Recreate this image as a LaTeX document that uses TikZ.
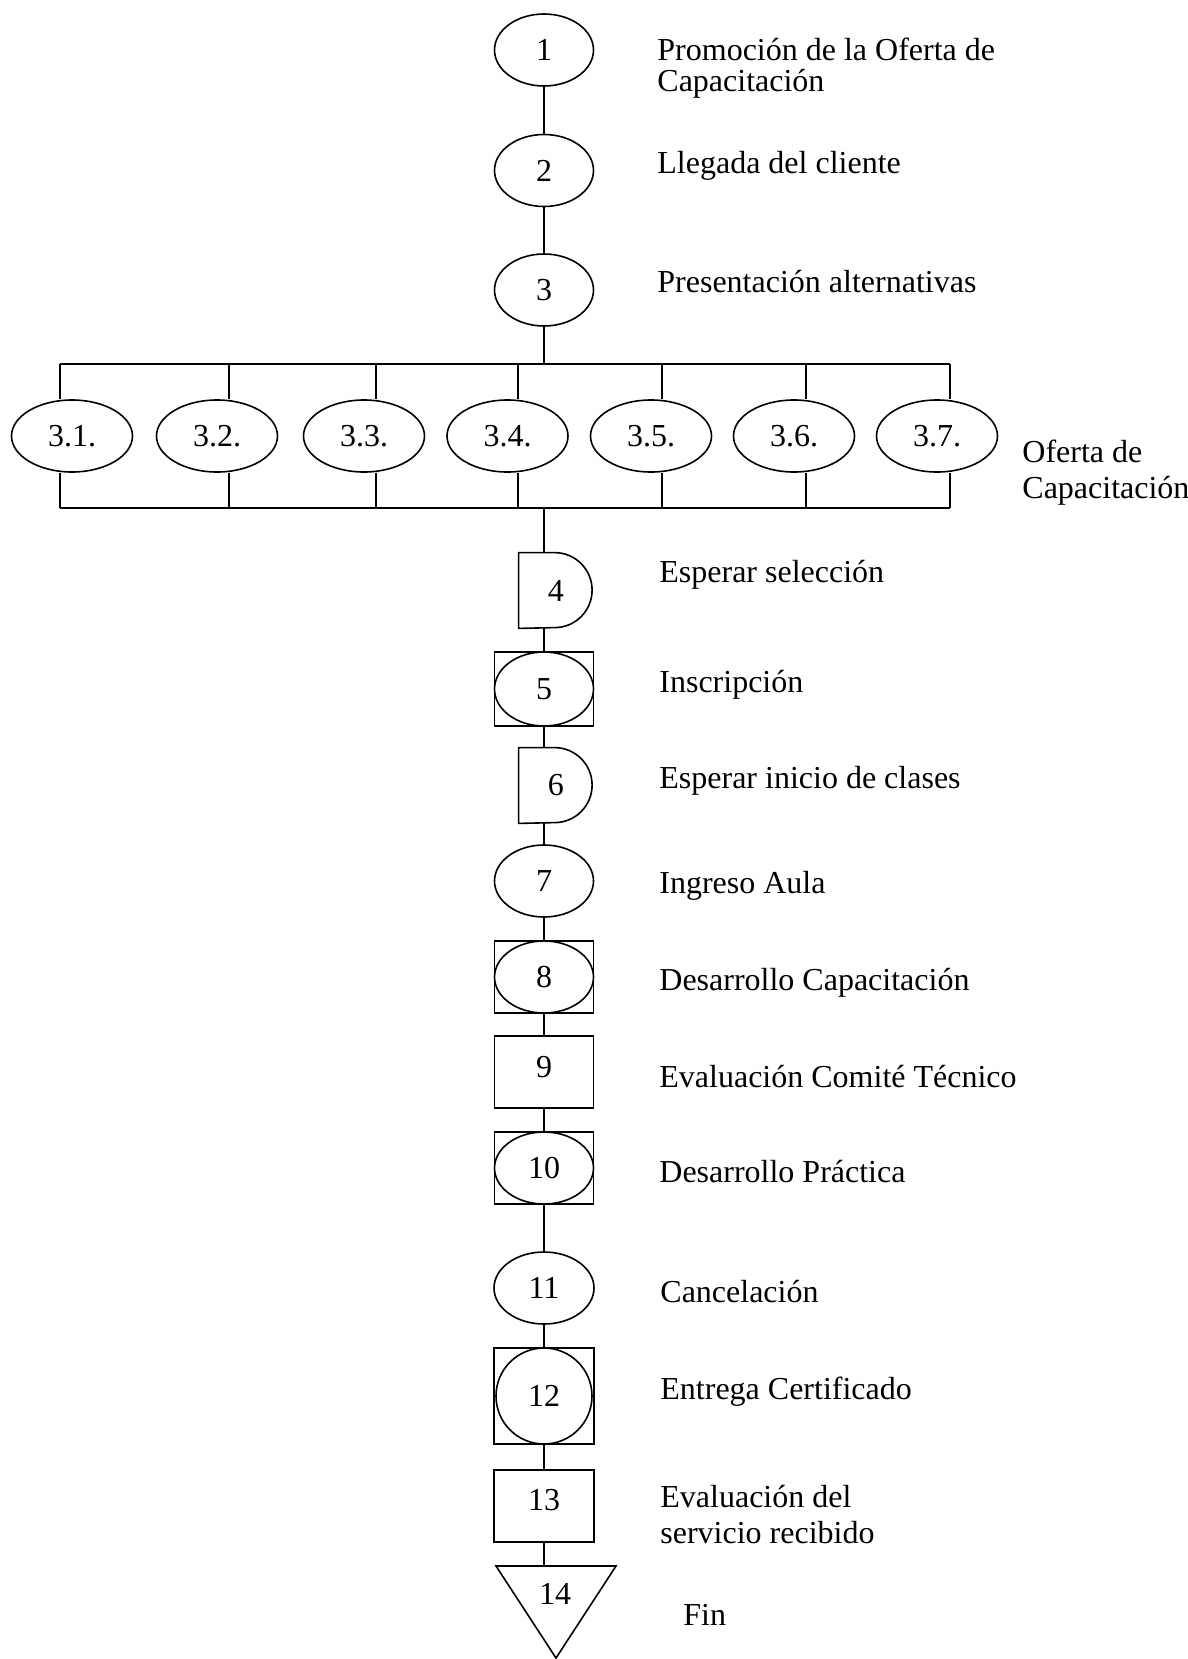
\documentclass[tikz,border=0pt]{standalone}
\usepackage{fontspec}
\setmainfont{Liberation Serif}
\usetikzlibrary{shapes.geometric}
\begin{document}
\begin{tikzpicture}[x=0.5pt,y=-0.5pt,
  every node/.style={font=\fontsize{16pt}{18pt}\selectfont, inner sep=0pt},
  line/.style={line width=0.8pt},
  oval/.style={draw, line width=0.8pt, ellipse, minimum width=49.5pt, minimum height=36pt},
  suboval/.style={draw, line width=0.8pt, ellipse, minimum width=60.5pt, minimum height=36pt},
  box/.style={draw, line width=0.8pt, rectangle, minimum width=49.5pt, minimum height=36pt},
  dly/.style={minimum width=36.75pt, minimum height=37.5pt},
  txt/.style={anchor=base west},
]
\useasboundingbox (0,0) rectangle (1188,1659);
\fill[white] (0,0) rectangle (1188,1659);

% main nodes 1-3
\node[oval] (n1) at (544,50) {1};
\node[oval] (n2) at (544,170.5) {2};
\node[oval] (n3) at (544,290) {3};
\draw[line] (n1) -- (n2);
\draw[line] (n2) -- (n3);

% branch bars
\coordinate (tbs) at (544,364);
\coordinate (bbs) at (544,508);
\foreach \i/\xl in {1/60,2/229,3/376,4/518,5/662,6/806,7/950}{
  \coordinate (t\i) at (\xl,364);
  \coordinate (b\i) at (\xl,508);
}
\foreach \i/\xc in {1/72,2/217,3/364,4/507.5,5/651,6/794,7/937}{
  \node[suboval] (e\i) at (\xc,436) {3.\i.};
}
\draw[line] (n3) -- (tbs);
\draw[line] (t1) -- (t7);
\draw[line] (b1) -- (b7);
\foreach \i in {1,...,7}{
  \draw[line] (t\i) -- (e\i.north -| t\i);
  \draw[line] (e\i.south -| b\i) -- (b\i);
}

% node 4 (delay)
\node[dly] (n4) at (555.75,590.5) {4};
\draw[line] (n4.north west) -- ++(18pt,0) arc[start angle=90, end angle=-90, radius=18.75pt] -- (n4.south west) -- cycle;
\draw[line] (bbs) -- (bbs |- n4.north);

% node 5 (operation + inspection)
\node[box, minimum height=37pt] (n5) at (544,689) {};
\node[oval, minimum height=37pt] (n5o) at (544,689) {5};
\draw[line] (n5.north) -- (n5.north |- n4.south);

% node 6 (delay)
\node[dly] (n6) at (555.75,785.5) {6};
\draw[line] (n6.north west) -- ++(18pt,0) arc[start angle=90, end angle=-90, radius=18.75pt] -- (n6.south west) -- cycle;
\draw[line] (n5.south) -- (n5.south |- n6.north);

% node 7
\node[oval] (n7) at (544,881) {7};
\draw[line] (n7.north) -- (n7.north |- n6.south);

% node 8
\node[box] (n8) at (544,977) {};
\node[oval] (n8o) at (544,977) {8};
\draw[line] (n7) -- (n8);

% node 9
\node[box, text depth=5pt] (n9) at (544,1072) {9};
\draw[line] (n8) -- (n9);

% node 10
\node[box] (n10) at (544,1168) {};
\node[oval] (n10o) at (544,1168) {10};
\draw[line] (n9) -- (n10);

% node 11
\node[oval, minimum width=50pt] (n11) at (544,1288) {11};
\draw[line] (n10) -- (n11);

% node 12
\node[box, minimum width=50pt, minimum height=48pt] (n12) at (544,1396) {};
\node[draw, line width=0.8pt, circle, minimum size=48pt] (n12o) at (544,1396) {12};
\draw[line] (n11) -- (n12);

% node 13
\node[box, minimum width=50pt, text depth=6pt] (n13) at (544,1506) {13};
\draw[line] (n12) -- (n13);

% node 14 (end triangle)
\coordinate (n14top) at (544,1566);
\draw[line] (496,1566) -- (616,1566) -- (556,1658) -- cycle;
\node (n14) at (555,1594) {14};
\draw[line] (n13) -- (n14top);

% labels
\node[txt] (l1a) at (657,61) {Promoción de la Oferta de};
\node[txt] (l1b) at (657,91) {Capacitación};
\node[txt] (l2) at (657,173) {Llegada del cliente};
\node[txt] (l3) at (657,292) {Presentación alternativas};
\node[txt] (l3x) at (1022,462) {Oferta de};
\node[txt] (l3y) at (1022,498) {Capacitación};
\node[txt] (l4) at (659,582) {Esperar selección};
\node[txt] (l5) at (659,692) {Inscripción};
\node[txt] (l6) at (659,788) {Esperar inicio de clases};
\node[txt] (l7) at (659,893) {Ingreso Aula};
\node[txt] (l8) at (659,990) {Desarrollo Capacitación};
\node[txt] (l9) at (659,1087) {Evaluación Comité Técnico};
\node[txt] (l10) at (659,1182) {Desarrollo Práctica};
\node[txt] (l11) at (660,1302) {Cancelación};
\node[txt] (l12) at (660,1399) {Entrega Certificado};
\node[txt] (l13a) at (660,1507) {Evaluación del};
\node[txt] (l13b) at (660,1543) {servicio recibido};
\node[txt] (l14) at (683,1625) {Fin};
\end{tikzpicture}
\end{document}
